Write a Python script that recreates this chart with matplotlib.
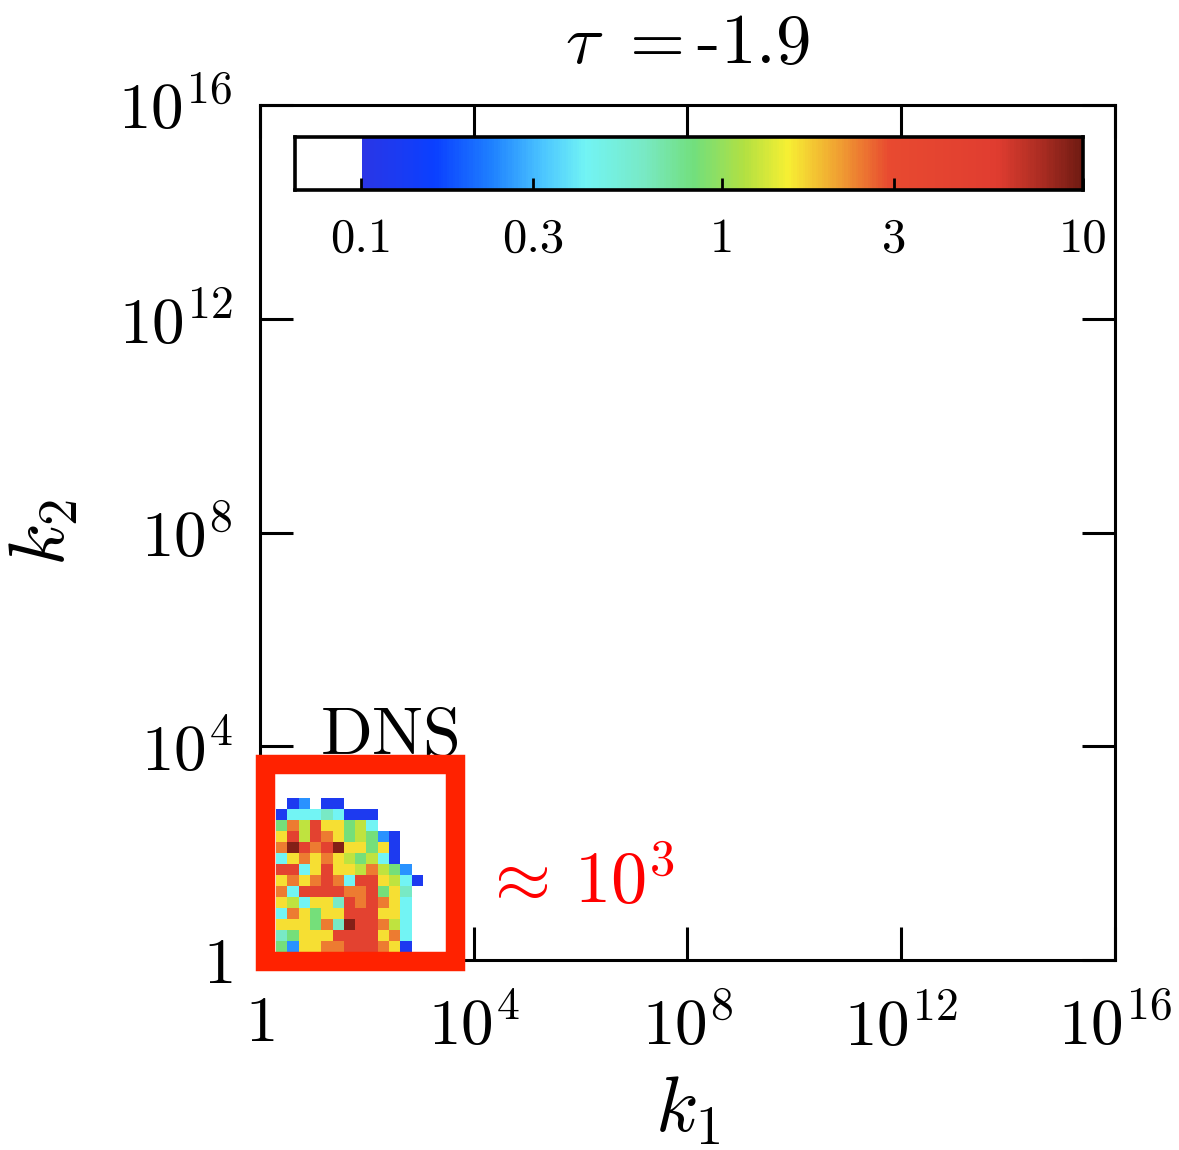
import numpy as np
import matplotlib
matplotlib.use("Agg")
import matplotlib.pyplot as plt
from matplotlib.colors import LinearSegmentedColormap, LogNorm
from matplotlib.patches import Rectangle

plt.rcParams['font.family'] = 'cmr10'
plt.rcParams['mathtext.fontset'] = 'cm'
plt.rcParams['axes.formatter.use_mathtext'] = True

# colour levels
nan = np.nan
B, Az, C, CG, G, LG, Y, O, R, DR = 0.12, 0.25, 0.42, 0.6, 0.85, 1.2, 1.6, 2.4, 4.5, 9.0

# rows from top (largest k2) to bottom, columns from small k1 to large k1
dns_rows = [
    [nan, B, Az, nan, B, B, nan, nan, nan, nan, nan, nan, nan],
    [B, C, C, C, CG, C, B, B, B, nan, nan, nan, nan],
    [G, O, LG, R, Y, Y, G, LG, C, nan, nan, nan, nan],
    [Y, R, LG, R, O, Y, G, LG, G, Az, B, nan, nan],
    [O, DR, R, O, R, DR, Y, Y, G, Y, B, nan, nan],
    [C, Y, O, Y, O, Y, LG, G, LG, C, B, nan, nan],
    [R, R, C, Y, R, Y, Y, LG, O, LG, G, Az, nan],
    [Y, O, Y, O, R, O, C, R, R, Y, LG, C, B],
    [O, C, R, R, R, R, O, O, R, G, Y, CG, nan],
    [Y, LG, C, Y, Y, CG, R, O, R, O, Y, C, nan],
    [C, O, Y, G, Y, Y, R, R, R, Y, Y, C, nan],
    [Y, Y, Y, G, O, CG, DR, R, R, O, LG, C, nan],
    [CG, G, Y, Y, Y, R, R, R, R, Y, O, C, nan],
    [G, Az, Y, Y, O, O, R, R, R, O, Y, B, nan],
]
dns = np.array(dns_rows)[::-1]

tau = -1.9
major_exp = [0, 4, 8, 12, 16]
cbar_ticks = [0.1, 0.3, 1, 3, 10]
cbar_labels = ['0.1', '0.3', '1', '3', '10']

cmap = LinearSegmentedColormap.from_list('softjet', [
    (0.00, '#2a36e6'), (0.10, '#0a40ff'), (0.18, '#1f82ff'),
    (0.25, '#4cc6ff'), (0.31, '#72f4f4'), (0.39, '#78e9c4'),
    (0.46, '#72df7c'), (0.53, '#b2e042'), (0.59, '#f7ef33'),
    (0.66, '#f0a132'), (0.73, '#e84a30'), (0.88, '#e03d30'),
    (0.95, '#a32a20'), (1.00, '#6e1a12')])
cmap.set_under('white')
cmap.set_bad('white')
norm = LogNorm(0.1, 10)

fig = plt.figure(figsize=(11.79, 11.5), dpi=100)
ax = fig.add_axes([0.2205, 0.1652, 0.7252, 0.7435])

# heatmap cells in log-spaced bins
nrow, ncol = dns.shape
xe = 10 ** (0.30 + 0.2115 * np.arange(ncol + 1))
ye = 10 ** (0.15 + 0.2057 * np.arange(nrow + 1))
ax.pcolormesh(xe, ye, np.ma.masked_invalid(dns), cmap=cmap, norm=norm)

ax.set_xscale('log')
ax.set_yscale('log')
ax.set_xlim(1, 1e16)
ax.set_ylim(1, 1e16)
ticks = [10.0 ** e for e in major_exp]
labels = [r'$1$' if e == 0 else r'$10^{%d}$' % e for e in major_exp]
ax.set_xticks(ticks)
ax.set_xticklabels(labels)
ax.set_yticks(ticks)
ax.set_yticklabels(labels)
ax.minorticks_off()
ax.tick_params(which='major', direction='in', length=24, width=2.2,
               top=True, right=True, labelsize=47, pad=20)
ax.tick_params(axis='x', pad=26)
for s in ax.spines.values():
    s.set_linewidth(2.2)

ax.set_xlabel(r'$k_1$', fontsize=56, labelpad=12)
ax.set_ylabel(r'$k_2$', fontsize=56, labelpad=28)
ax.set_title(r'$\tau\ {=}$' + '%.1f' % tau, fontsize=51, pad=30)

# DNS box
ax.add_patch(Rectangle((10 ** 0.094, 10 ** -0.02), 10 ** 3.65 - 10 ** 0.094,
                       10 ** 3.67 - 10 ** -0.02, fill=False, ec='#ff2200',
                       lw=14, clip_on=False, zorder=5, joinstyle='miter'))
ax.text(10 ** 1.12, 10 ** 3.84, r'$\mathrm{DNS}$', fontsize=49, color='black',
        ha='left', va='baseline')
ax.text(10 ** 4.15, 10 ** 1.07, r'$\approx\,10^3$', fontsize=52, color='red',
        ha='left', va='baseline')

# inset colorbar
cax = fig.add_axes([0.2502, 0.8348, 0.6684, 0.0461])
cv = np.logspace(np.log10(0.0655), 1, 400)
cax.pcolormesh(cv, [0, 1], cv[:-1][None, :], cmap=cmap, norm=norm)
cax.set_xscale('log')
cax.set_xlim(0.0655, 10)
cax.set_ylim(0, 1)
cax.set_yticks([])
cax.set_xticks(cbar_ticks)
cax.set_xticklabels(cbar_labels)
cax.minorticks_off()
cax.tick_params(axis='x', direction='in', length=9, width=2, labelsize=35, pad=20)
for s in cax.spines.values():
    s.set_linewidth(2.6)

fig.savefig('out.png', dpi=100)
